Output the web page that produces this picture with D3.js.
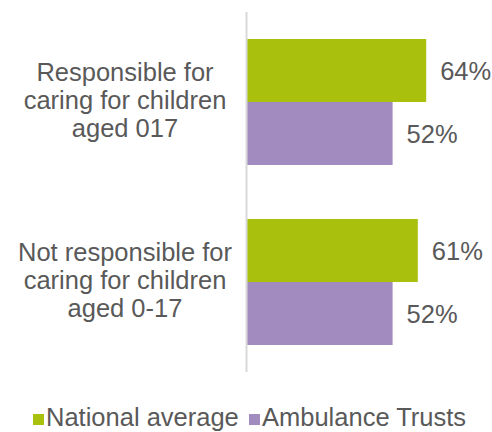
<!DOCTYPE html>
<html>
<head>
<meta charset="utf-8">
<script src="https://cdn.jsdelivr.net/npm/d3@7"></script>
<style>
  body { margin: 0; background: #fff; }
  svg text { font-family: Arial, "Liberation Sans", sans-serif; fill: #595959; }
</style>
</head>
<body>
<div id="chart"></div>
<script>
var categories = [
  ["Responsible for", "caring for children", "aged 017"],
  ["Not responsible for", "caring for children", "aged 0-17"]
];
var seriesNames = ["National average", "Ambulance Trusts"];
var nationalAverage = [64, 61];
var ambulanceTrusts = [52, 52];
var colors = ["#a9c10d", "#a28bbf"];

var width = 492, height = 432;
var fontSize = "25.5px";

var svg = d3.select("#chart").append("svg")
  .attr("width", width)
  .attr("height", height);

var catIdx = categories.map(function (d, i) { return i; });

var y = d3.scaleBand()
  .domain(catIdx)
  .range([12, 372])
  .paddingInner(0.3)
  .paddingOuter(0.15);

var ySub = d3.scaleBand()
  .domain([0, 1])
  .range([0, y.bandwidth()]);

var x = d3.scaleLinear()
  .domain([0, 100])
  .range([247, 527]);

var series = [nationalAverage, ambulanceTrusts];

// bars + value labels
series.forEach(function (vals, s) {
  svg.append("g").selectAll("rect")
    .data(vals)
    .enter().append("rect")
    .attr("x", x(0))
    .attr("y", function (d, i) { return y(i) + ySub(s); })
    .attr("width", function (d) { return x(d) - x(0); })
    .attr("height", ySub.bandwidth())
    .attr("fill", colors[s]);

  svg.append("g").selectAll("text")
    .data(vals)
    .enter().append("text")
    .attr("x", function (d) { return x(d) + 14; })
    .attr("y", function (d, i) { return y(i) + ySub(s) + ySub.bandwidth() / 2 + 9; })
    .attr("font-size", fontSize)
    .text(function (d) { return d + "%"; });
});

// axis line
svg.append("line")
  .attr("x1", x(0) - 0.5).attr("x2", x(0) - 0.5)
  .attr("y1", y.range()[0]).attr("y2", y.range()[1])
  .attr("stroke", "#d9d9d9")
  .attr("stroke-width", 2);

// category labels
catIdx.forEach(function (i) {
  var t = svg.append("text")
    .attr("text-anchor", "middle")
    .attr("font-size", fontSize)
    .attr("y", y(i) + y.bandwidth() / 2 + 7);
  categories[i].forEach(function (line, k) {
    t.append("tspan")
      .attr("x", 125)
      .attr("dy", k === 0 ? "-27.8" : "27.8")
      .text(line);
  });
});

// legend
var legendItems = [
  { name: seriesNames[0], color: colors[0], x: 33, tx: 46 },
  { name: seriesNames[1], color: colors[1], x: 249, tx: 262 }
];
var lg = svg.append("g").selectAll("g")
  .data(legendItems)
  .enter().append("g");
lg.append("rect")
  .attr("x", function (d) { return d.x; })
  .attr("y", 414)
  .attr("width", 11)
  .attr("height", 11)
  .attr("fill", function (d) { return d.color; });
lg.append("text")
  .attr("x", function (d) { return d.tx; })
  .attr("y", 426)
  .attr("font-size", fontSize)
  .text(function (d) { return d.name; });
</script>
</body>
</html>
